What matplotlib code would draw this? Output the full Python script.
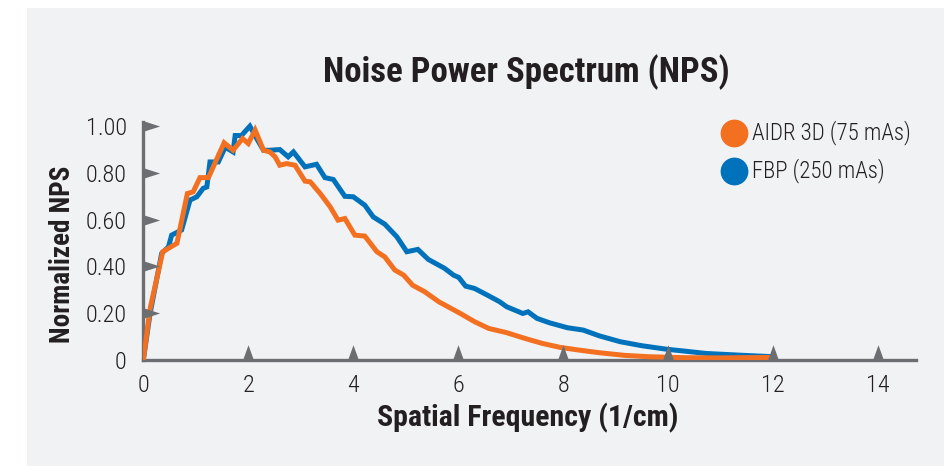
import matplotlib
matplotlib.use("Agg")
import matplotlib.pyplot as plt
from matplotlib.patches import Rectangle

# === Data ===
aidr_freq = [0.0, 0.13, 0.37, 0.64, 0.84, 0.95, 1.08, 1.24, 1.54, 1.71, 1.89, 2.0,
             2.13, 2.29, 2.41, 2.51, 2.6, 2.73, 2.89, 3.08, 3.18, 3.37, 3.56, 3.71,
             3.84, 4.03, 4.22, 4.45, 4.6, 4.79, 4.96, 5.13, 5.36, 5.63, 6.04, 6.31,
             6.58, 6.92, 7.26, 7.6, 7.94, 8.28, 8.69, 9.16, 9.63, 10.31, 10.99, 12.0]
aidr_nps = [0.0, 0.22, 0.463, 0.499, 0.712, 0.719, 0.78, 0.78, 0.929, 0.897, 0.947, 0.926,
            0.983, 0.897, 0.89, 0.869, 0.833, 0.84, 0.833, 0.765, 0.762, 0.712, 0.655, 0.598,
            0.605, 0.534, 0.53, 0.463, 0.441, 0.385, 0.363, 0.32, 0.292, 0.249, 0.199, 0.164,
            0.135, 0.117, 0.093, 0.071, 0.054, 0.043, 0.031, 0.02, 0.014, 0.01, 0.009, 0.011]

fbp_freq = [0.0, 0.13, 0.35, 0.48, 0.54, 0.73, 0.89, 1.02, 1.14, 1.21, 1.27, 1.43,
            1.56, 1.71, 1.75, 1.87, 2.03, 2.16, 2.29, 2.41, 2.6, 2.76, 2.86, 3.08,
            3.3, 3.46, 3.62, 3.84, 4.0, 4.22, 4.38, 4.6, 4.83, 5.02, 5.23, 5.43,
            5.74, 5.91, 6.01, 6.14, 6.31, 6.55, 6.79, 6.92, 7.23, 7.33, 7.5, 7.74,
            8.08, 8.38, 8.69, 9.09, 9.5, 9.97, 10.31, 10.72, 11.33, 12.0]
fbp_nps = [0.0, 0.20, 0.456, 0.484, 0.534, 0.556, 0.684, 0.698, 0.734, 0.74, 0.847, 0.847,
           0.91, 0.89, 0.96, 0.96, 1.0, 0.947, 0.897, 0.897, 0.90, 0.869, 0.89, 0.826,
           0.837, 0.78, 0.772, 0.70, 0.698, 0.662, 0.612, 0.581, 0.527, 0.463, 0.473, 0.43,
           0.392, 0.363, 0.353, 0.316, 0.306, 0.278, 0.249, 0.228, 0.199, 0.206, 0.178, 0.159,
           0.138, 0.128, 0.103, 0.078, 0.061, 0.046, 0.038, 0.028, 0.021, 0.014]

x_ticks = [0, 2, 4, 6, 8, 10, 12, 14]
y_ticks = [0, 0.2, 0.4, 0.6, 0.8, 1.0]
y_tick_labels = ["0", "0.20", "0.40", "0.60", "0.80", "1.00"]
series_labels = ["AIDR 3D (75 mAs)", "FBP (250 mAs)"]

# === Style ===
ORANGE = "#f37021"
BLUE = "#0072bc"
GRAY = "#6d6e71"
PANEL = "#f1f2f4"
TEXT = "#231f20"
plt.rcParams["font.family"] = ["Roboto Condensed", "DejaVu Sans"]
plt.rcParams["font.stretch"] = "condensed"

fig = plt.figure(figsize=(9.51, 4.66), dpi=100, facecolor="white")
W, H = 951, 466

# gray panel behind the chart
fig.patches.append(Rectangle((27 / W, 0), (944 - 27) / W, 1 - 8 / H,
                             transform=fig.transFigure, facecolor=PANEL,
                             edgecolor="none", zorder=-5))

ax = fig.add_axes([143.3 / W, 1 - 360 / H, (916 - 143.3) / W, (360 - 121.5) / H])
ax.patch.set_visible(False)
ax.set_xlim(0, 14.72)
ax.set_ylim(0, 1.02)

# lines
ax.plot(fbp_freq, fbp_nps, color=BLUE, lw=3.6, solid_joinstyle="miter", zorder=3)
ax.plot(aidr_freq, aidr_nps, color=ORANGE, lw=3.6, solid_joinstyle="miter", zorder=4)

# spines
for s in ["top", "right"]:
    ax.spines[s].set_visible(False)
for s in ["left", "bottom"]:
    ax.spines[s].set_color(GRAY)
    ax.spines[s].set_linewidth(2.4)

# triangle tick markers
right_tri = [(0, -0.32), (1, 0), (0, 0.32)]
up_tri = [(-0.36, 0), (0, 1), (0.36, 0)]
ax.scatter([0] * 5, y_ticks[1:], marker=right_tri, s=24 ** 2, color=GRAY,
           linewidths=0, clip_on=False, zorder=6)
ax.scatter(x_ticks[1:], [0] * 7, marker=up_tri, s=22 ** 2, color=GRAY,
           linewidths=0, clip_on=False, zorder=6)

ax.set_xticks(x_ticks)
ax.set_xticklabels([str(v) for v in x_ticks])
ax.set_yticks(y_ticks)
ax.set_yticklabels(y_tick_labels)
ax.tick_params(length=0, labelsize=17.5, colors=TEXT)
ax.tick_params(axis="x", pad=10)
ax.tick_params(axis="y", pad=12)
for lab in ax.get_xticklabels() + ax.get_yticklabels():
    lab.set_fontweight("light")

# titles
fig.text(526 / W, 1 - 72 / H, "Noise Power Spectrum (NPS)", ha="center", va="center",
         fontsize=25, fontweight="bold", color=TEXT)
fig.text(528 / W, 1 - 418 / H, "Spatial Frequency (1/cm)", ha="center", va="center",
         fontsize=21.5, fontweight="bold", color=TEXT)
fig.text(63 / W, 1 - 254 / H, "Normalized NPS", ha="center", va="center",
         rotation=90, fontsize=19.5, fontweight="bold", color=TEXT)

# legend (circles + labels)
for i, (lab, col) in enumerate(zip(series_labels, [ORANGE, BLUE])):
    yy = 1 - (133 + i * 38) / H
    fig.add_artist(plt.Line2D([734 / W], [yy], marker="o", markersize=19,
                              color=col, transform=fig.transFigure))
    fig.text(752 / W, yy, lab, ha="left", va="center", fontsize=16.5,
             fontweight="light", color=TEXT)

plt.savefig("out.png", dpi=100, facecolor="white")
plt.close()
